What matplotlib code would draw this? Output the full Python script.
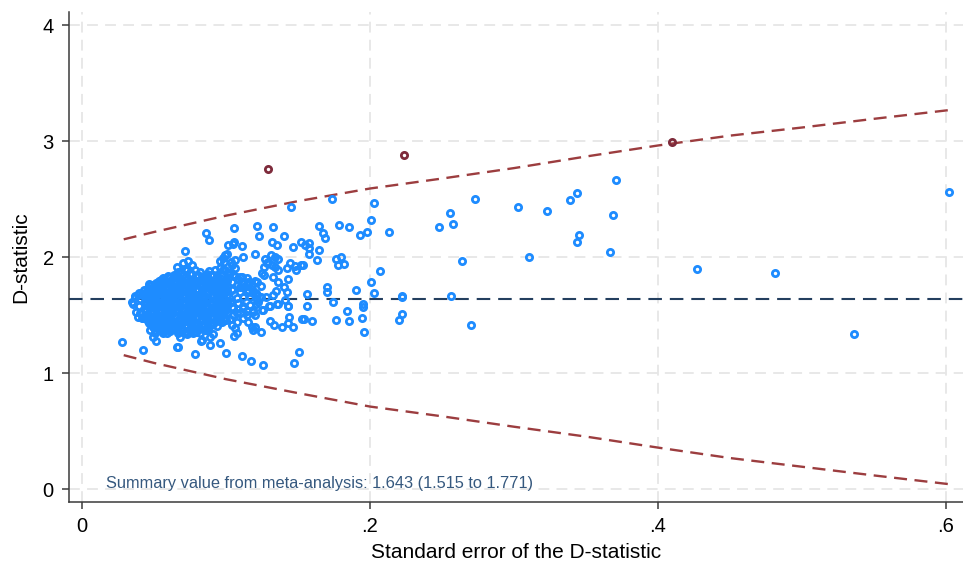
import matplotlib
matplotlib.use("Agg")
import matplotlib.pyplot as plt

plt.rcParams['font.family'] = ['Liberation Sans', 'DejaVu Sans']

# Pooled estimate from the meta-analysis
summary_d = 1.643
summary_text = "Summary value from meta-analysis: 1.643 (1.515 to 1.771)"

# Control limits of the funnel, sampled along the standard error axis
limit_se = [0.029, 0.05, 0.10, 0.15, 0.20, 0.25, 0.30, 0.35, 0.40, 0.45, 0.50, 0.55, 0.602]
upper_limit = [2.156, 2.219, 2.360, 2.485, 2.594, 2.680, 2.770, 2.870, 2.965, 3.050, 3.120, 3.195, 3.270]
lower_limit = [1.157, 1.090, 0.950, 0.830, 0.714, 0.630, 0.540, 0.455, 0.360, 0.270, 0.195, 0.120, 0.045]

# Studies falling outside the control limits
outside_se = [0.1294, 0.2236, 0.4095]
outside_d = [2.759, 2.884, 2.997]

# Studies with larger standard errors (sparse part of the funnel)
wide_se = [0.371, 0.369, 0.367, 0.427, 0.481, 0.536, 0.602, 0.1737, 0.2028, 0.2009,
           0.1644, 0.1785, 0.1852, 0.1674, 0.1690, 0.1933, 0.1977, 0.2133, 0.1524, 0.1547,
           0.1575, 0.1575, 0.1580, 0.1647, 0.1633, 0.1762, 0.1797, 0.1778, 0.1820, 0.1536,
           0.2071, 0.2004, 0.1900, 0.1702, 0.1699, 0.1566, 0.2030, 0.2224, 0.2224, 0.2563,
           0.1561, 0.1744, 0.1954, 0.1954, 0.1838, 0.1543, 0.1600, 0.1764, 0.1852, 0.1944,
           0.2222, 0.2201, 0.1956, 0.1510, 0.2704, 0.2482, 0.2556, 0.2577, 0.2729, 0.2642,
           0.3029, 0.3226, 0.3104, 0.3388, 0.3438, 0.3450, 0.3436]
wide_d = [2.668, 2.364, 2.049, 1.903, 1.862, 1.338, 2.567, 2.502, 2.473, 2.324,
          2.267, 2.278, 2.261, 2.207, 2.169, 2.189, 2.221, 2.218, 2.129, 2.107,
          2.124, 2.081, 2.032, 2.060, 1.980, 1.983, 2.006, 1.937, 1.943, 1.935,
          1.880, 1.791, 1.720, 1.745, 1.705, 1.688, 1.690, 1.671, 1.656, 1.671,
          1.585, 1.613, 1.596, 1.570, 1.539, 1.470, 1.450, 1.458, 1.450, 1.481,
          1.510, 1.462, 1.361, 1.188, 1.415, 2.261, 2.382, 2.292, 2.505, 1.972,
          2.436, 2.396, 2.000, 2.496, 2.559, 2.195, 2.129]

# Studies around the edge of the main cluster
edge_se = [0.1449, 0.0861, 0.0882, 0.1053, 0.1213, 0.1326, 0.1232, 0.1403, 0.1317, 0.1356,
           0.1014, 0.1049, 0.1058, 0.1111, 0.1468, 0.0718, 0.1201, 0.1116, 0.0993, 0.1007,
           0.0981, 0.1312, 0.1338, 0.1359, 0.1271, 0.1282, 0.1294, 0.1266, 0.1317, 0.1340,
           0.1359, 0.0736, 0.0704, 0.0662, 0.0958, 0.0984, 0.1032, 0.1060, 0.1044, 0.1060,
           0.1444, 0.1477, 0.1421, 0.1523, 0.1484, 0.1428, 0.1329, 0.1363, 0.1250, 0.1266,
           0.1204, 0.1245, 0.1403, 0.1426, 0.1345, 0.1329, 0.1275, 0.1245, 0.1218, 0.1410,
           0.1306, 0.1356, 0.1255, 0.1433, 0.1201, 0.1155, 0.1178, 0.1306, 0.1336, 0.1387,
           0.1437, 0.1463, 0.1433, 0.1528, 0.1201, 0.1190, 0.1243, 0.1079, 0.1056, 0.1113,
           0.1171, 0.1257, 0.1470, 0.1002, 0.0785, 0.0958, 0.0889, 0.0831, 0.0664, 0.0426,
           0.0275, 0.0680, 0.0669, 0.0514, 0.0495, 0.0505, 0.0472, 0.0468, 0.0414, 0.0375,
           0.0356, 0.0345, 0.0368, 0.0468, 0.0560, 0.0606, 0.0889, 0.0912, 0.0866, 0.0820,
           0.0770, 0.0731, 0.0565, 0.0588, 0.0762, 0.0785, 0.0565, 0.0599, 0.0641, 0.0391,
           0.0368, 0.0426, 0.0460, 0.0519, 0.0553, 0.0391, 0.0426, 0.0460, 0.0519, 0.0553,
           0.0565, 0.0785, 0.0727, 0.0826, 0.0658]
edge_d = [2.431, 2.212, 2.149, 2.250, 2.270, 2.264, 2.184, 2.184, 2.132, 2.109,
          2.103, 2.118, 2.129, 2.097, 2.092, 2.051, 2.031, 2.005, 2.017, 2.026,
          1.994, 2.020, 2.005, 1.988, 1.983, 1.948, 1.959, 1.919, 1.931, 1.919,
          1.891, 1.971, 1.948, 1.919, 1.971, 1.959, 1.962, 1.977, 1.931, 1.905,
          1.954, 1.925, 1.908, 1.931, 1.891, 1.810, 1.833, 1.784, 1.868, 1.845,
          1.793, 1.753, 1.741, 1.701, 1.712, 1.675, 1.661, 1.661, 1.638, 1.632,
          1.580, 1.595, 1.546, 1.580, 1.503, 1.445, 1.402, 1.454, 1.416, 1.402,
          1.483, 1.402, 1.437, 1.468, 1.402, 1.373, 1.356, 1.345, 1.322, 1.149,
          1.103, 1.069, 1.092, 1.178, 1.164, 1.258, 1.241, 1.287, 1.224, 1.201,
          1.270, 1.310, 1.350, 1.281, 1.316, 1.350, 1.373, 1.431, 1.474, 1.531,
          1.597, 1.618, 1.661, 1.770, 1.816, 1.827, 1.316, 1.339, 1.373, 1.345,
          1.350, 1.350, 1.359, 1.350, 1.934, 1.890, 1.819, 1.828, 1.828, 1.675,
          1.666, 1.684, 1.703, 1.733, 1.718, 1.488, 1.474, 1.474, 1.445, 1.416,
          1.345, 1.359, 1.359, 1.278, 1.229]

# Studies to the right of the dense core
mid_se = [0.1005, 0.1063, 0.1097, 0.1144, 0.1155, 0.1074, 0.1120, 0.1178, 0.1213, 0.1005,
          0.1039, 0.1097, 0.1155, 0.1190, 0.1023, 0.1074, 0.1120, 0.1167, 0.1213, 0.1005,
          0.1039, 0.1086, 0.1120, 0.1167, 0.1208, 0.1016, 0.1051, 0.1097, 0.1144, 0.1190,
          0.1028, 0.1074, 0.1120, 0.1039, 0.1063, 0.0935, 0.0947, 0.0924, 0.0958, 0.0993,
          0.1028, 0.0843, 0.0877, 0.0947, 0.1028, 0.1051, 0.1074, 0.1120, 0.1144, 0.1190,
          0.1225, 0.1248, 0.1301, 0.1363, 0.1431, 0.0981, 0.1005, 0.1051, 0.1110, 0.1086,
          0.0993, 0.1040, 0.1120, 0.1155, 0.1098, 0.1178, 0.1150, 0.1212, 0.1040, 0.0958,
          0.1005]
mid_d = [1.799, 1.839, 1.833, 1.819, 1.790, 1.761, 1.747, 1.761, 1.790, 1.718,
         1.724, 1.704, 1.718, 1.695, 1.661, 1.646, 1.661, 1.655, 1.675, 1.603,
         1.574, 1.603, 1.580, 1.589, 1.597, 1.531, 1.503, 1.517, 1.540, 1.546,
         1.465, 1.445, 1.474, 1.416, 1.388, 1.847, 1.804, 1.891, 1.905, 1.891,
         1.862, 1.503, 1.531, 1.589, 1.617, 1.560, 1.517, 1.560, 1.503, 1.531,
         1.617, 1.546, 1.583, 1.595, 1.583, 1.894, 1.862, 1.848, 1.833, 1.810,
         1.808, 1.787, 1.775, 1.762, 1.745, 1.730, 1.700, 1.690, 1.720, 1.724,
         1.680]

# Dense core of precise studies
core_se = [0.0402, 0.0397, 0.0405, 0.0399,
           0.0431, 0.0428, 0.0435, 0.0426, 0.0433,
           0.0462, 0.0458, 0.0465, 0.0457, 0.0463, 0.0460,
           0.0492, 0.0488, 0.0495, 0.0487, 0.0494, 0.0490,
           0.0521, 0.0518, 0.0524, 0.0516, 0.0523, 0.0519, 0.0525, 0.0517,
           0.0551, 0.0548, 0.0554, 0.0546, 0.0553, 0.0549, 0.0555, 0.0547, 0.0552,
           0.0581, 0.0578, 0.0584, 0.0576, 0.0583, 0.0579, 0.0585, 0.0577,
           0.0611, 0.0608, 0.0614, 0.0606, 0.0613, 0.0609, 0.0615, 0.0607, 0.0612,
           0.0641, 0.0638, 0.0644, 0.0636, 0.0643, 0.0639, 0.0645, 0.0637, 0.0642,
           0.0671, 0.0668, 0.0674, 0.0666, 0.0673, 0.0669, 0.0675, 0.0667, 0.0672, 0.0670,
           0.0701, 0.0698, 0.0704, 0.0696, 0.0703, 0.0699, 0.0705, 0.0697, 0.0702,
           0.0731, 0.0728, 0.0734, 0.0726, 0.0733, 0.0729, 0.0735, 0.0727, 0.0732, 0.0730,
           0.0761, 0.0758, 0.0764, 0.0756, 0.0763, 0.0759, 0.0765, 0.0757, 0.0762,
           0.0791, 0.0788, 0.0794, 0.0786, 0.0793, 0.0789, 0.0795, 0.0787, 0.0792,
           0.0821, 0.0818, 0.0824, 0.0816, 0.0823, 0.0819, 0.0825, 0.0817, 0.0822,
           0.0851, 0.0848, 0.0854, 0.0846, 0.0853, 0.0849, 0.0855, 0.0847, 0.0852,
           0.0881, 0.0878, 0.0884, 0.0876, 0.0883, 0.0879, 0.0885, 0.0877, 0.0882,
           0.0911, 0.0908, 0.0914, 0.0906, 0.0913, 0.0909, 0.0915, 0.0907,
           0.0941, 0.0938, 0.0944, 0.0936, 0.0943, 0.0939, 0.0945, 0.0937,
           0.0971, 0.0968, 0.0974, 0.0966, 0.0973, 0.0969, 0.0975,
           0.1001, 0.0998, 0.1004, 0.0996, 0.1003,
           0.0446, 0.0475, 0.0503, 0.0536, 0.0567, 0.0594, 0.0626, 0.0655, 0.0684, 0.0716,
           0.0745, 0.0777, 0.0806, 0.0834, 0.0866, 0.0895, 0.0925, 0.0957, 0.0985,
           0.0452, 0.0481, 0.0511, 0.0539, 0.0571, 0.0598, 0.0629, 0.0659, 0.0688, 0.0718,
           0.0749, 0.0779, 0.0808, 0.0838, 0.0869, 0.0897, 0.0928, 0.0953, 0.0988]
core_d = [1.523, 1.581, 1.638, 1.694,
          1.497, 1.558, 1.621, 1.672, 1.718,
          1.452, 1.508, 1.567, 1.629, 1.684, 1.737,
          1.404, 1.468, 1.531, 1.593, 1.652, 1.709,
          1.392, 1.441, 1.503, 1.558, 1.617, 1.683, 1.738, 1.781,
          1.371, 1.424, 1.482, 1.539, 1.602, 1.657, 1.719, 1.768, 1.806,
          1.393, 1.452, 1.508, 1.571, 1.627, 1.689, 1.746, 1.797,
          1.362, 1.413, 1.474, 1.532, 1.593, 1.648, 1.713, 1.768, 1.829,
          1.384, 1.437, 1.498, 1.561, 1.618, 1.679, 1.742, 1.793, 1.852,
          1.354, 1.408, 1.467, 1.529, 1.588, 1.652, 1.707, 1.763, 1.821, 1.876,
          1.373, 1.432, 1.491, 1.553, 1.612, 1.671, 1.734, 1.788, 1.847,
          1.341, 1.398, 1.462, 1.518, 1.581, 1.643, 1.698, 1.761, 1.818, 1.893,
          1.382, 1.441, 1.503, 1.562, 1.624, 1.681, 1.743, 1.802, 1.861,
          1.361, 1.418, 1.479, 1.541, 1.598, 1.662, 1.721, 1.779, 1.838,
          1.392, 1.453, 1.511, 1.572, 1.634, 1.688, 1.751, 1.809, 1.872,
          1.372, 1.428, 1.492, 1.549, 1.608, 1.671, 1.732, 1.788, 1.842,
          1.401, 1.462, 1.518, 1.583, 1.641, 1.703, 1.758, 1.821, 1.879,
          1.423, 1.481, 1.542, 1.601, 1.663, 1.719, 1.782, 1.847,
          1.412, 1.471, 1.532, 1.589, 1.652, 1.713, 1.771, 1.828,
          1.443, 1.508, 1.567, 1.628, 1.691, 1.748, 1.812,
          1.462, 1.548, 1.621, 1.702, 1.779,
          1.541, 1.612, 1.487, 1.652, 1.561, 1.702, 1.445, 1.598, 1.736, 1.512,
          1.668, 1.579, 1.721, 1.468, 1.633, 1.752, 1.547, 1.684, 1.609,
          1.663, 1.539, 1.727, 1.476, 1.639, 1.784, 1.558, 1.701, 1.429, 1.614,
          1.782, 1.521, 1.657, 1.803, 1.489, 1.597, 1.704, 1.452, 1.654]

# More studies packed into the core, between the ones above
packed_se = [0.0447, 0.0443, 0.0446, 0.0442, 0.0448,
             0.0477, 0.0473, 0.0476, 0.0472, 0.0478, 0.0474, 0.0476,
             0.0507, 0.0503, 0.0506, 0.0502, 0.0508, 0.0504, 0.0506, 0.0503,
             0.0537, 0.0533, 0.0536, 0.0532, 0.0538, 0.0534, 0.0536, 0.0533,
             0.0567, 0.0563, 0.0566, 0.0562, 0.0568, 0.0564, 0.0566, 0.0563,
             0.0597, 0.0593, 0.0596, 0.0592, 0.0598, 0.0594, 0.0596, 0.0593, 0.0597,
             0.0627, 0.0623, 0.0626, 0.0622, 0.0628, 0.0624, 0.0626, 0.0623,
             0.0657, 0.0653, 0.0656, 0.0652, 0.0658, 0.0654, 0.0656, 0.0653, 0.0657,
             0.0687, 0.0683, 0.0686, 0.0682, 0.0688, 0.0684, 0.0686, 0.0683, 0.0687,
             0.0717, 0.0713, 0.0716, 0.0712, 0.0718, 0.0714, 0.0716, 0.0713, 0.0717, 0.0714,
             0.0747, 0.0743, 0.0746, 0.0742, 0.0748, 0.0744, 0.0746, 0.0743, 0.0747,
             0.0777, 0.0773, 0.0776, 0.0772, 0.0778, 0.0774, 0.0776, 0.0773,
             0.0807, 0.0803, 0.0806, 0.0802, 0.0808, 0.0804, 0.0806, 0.0803, 0.0807,
             0.0837, 0.0833, 0.0836, 0.0832, 0.0838, 0.0834, 0.0836, 0.0833,
             0.0867, 0.0863, 0.0866, 0.0862, 0.0868, 0.0864, 0.0866, 0.0863, 0.0867,
             0.0897, 0.0893, 0.0896, 0.0892, 0.0898, 0.0894, 0.0896, 0.0893,
             0.0927, 0.0923, 0.0926, 0.0922, 0.0928, 0.0924, 0.0926,
             0.0957, 0.0953, 0.0956, 0.0952, 0.0958, 0.0954, 0.0956,
             0.0987, 0.0983, 0.0986, 0.0982, 0.0988, 0.0984]
packed_d = [1.485, 1.545, 1.600, 1.655, 1.705,
            1.425, 1.480, 1.540, 1.600, 1.660, 1.715, 1.760,
            1.375, 1.425, 1.475, 1.530, 1.590, 1.645, 1.700, 1.760,
            1.405, 1.470, 1.530, 1.585, 1.645, 1.705, 1.760, 1.800,
            1.395, 1.455, 1.515, 1.575, 1.635, 1.695, 1.755, 1.810,
            1.380, 1.440, 1.500, 1.560, 1.620, 1.680, 1.735, 1.790, 1.840,
            1.395, 1.455, 1.515, 1.575, 1.635, 1.690, 1.755, 1.815,
            1.370, 1.425, 1.485, 1.545, 1.605, 1.665, 1.725, 1.780, 1.840,
            1.390, 1.450, 1.510, 1.570, 1.630, 1.690, 1.750, 1.810, 1.865,
            1.360, 1.415, 1.475, 1.535, 1.595, 1.655, 1.715, 1.775, 1.835, 1.900,
            1.380, 1.440, 1.500, 1.560, 1.620, 1.680, 1.740, 1.800, 1.860,
            1.395, 1.455, 1.515, 1.575, 1.635, 1.695, 1.755, 1.815,
            1.370, 1.425, 1.485, 1.545, 1.605, 1.665, 1.725, 1.785, 1.845,
            1.410, 1.470, 1.530, 1.590, 1.650, 1.710, 1.770, 1.830,
            1.390, 1.455, 1.515, 1.575, 1.635, 1.695, 1.755, 1.815, 1.860,
            1.430, 1.490, 1.550, 1.610, 1.670, 1.730, 1.790, 1.850,
            1.450, 1.510, 1.570, 1.630, 1.690, 1.750, 1.805,
            1.460, 1.520, 1.580, 1.640, 1.700, 1.760, 1.800,
            1.480, 1.540, 1.600, 1.660, 1.720, 1.780]

x_ticks = [0, 0.2, 0.4, 0.6]
x_tick_labels = ["0", ".2", ".4", ".6"]
y_ticks = [0, 1, 2, 3, 4]
y_tick_labels = ["0", "1", "2", "3", "4"]

blue = "#1E8CFF"
maroon = "#7E2B3B"
limit_color = "#9C3D3F"
summary_color = "#243F5F"
grid_color = "#E6E6E6"
axis_color = "#3A3A3A"

fig = plt.figure(figsize=(9.63, 5.71), dpi=100)
ax = fig.add_axes([69 / 963, 1 - 502 / 571, 894 / 963, 490 / 571])

ax.set_xlim(-0.009, 0.6118)
ax.set_ylim(-0.109, 4.116)

# Dashed grid
for xv in x_ticks:
    ax.axvline(xv, color=grid_color, lw=1.3, dashes=(6, 4), zorder=0)
for yv in y_ticks:
    ax.axhline(yv, color=grid_color, lw=1.3, dashes=(6, 4), zorder=0)

# Pooled estimate and control limits
ax.axhline(summary_d, color=summary_color, lw=1.5, dashes=(6.5, 3.8), zorder=2)
ax.plot(limit_se, upper_limit, color=limit_color, lw=1.7, dashes=(5.5, 3.2), zorder=2)
ax.plot(limit_se, lower_limit, color=limit_color, lw=1.7, dashes=(5.5, 3.2), zorder=2)

# Hollow (unfilled) circles, so overlapping studies merge into a solid mass
marker_kw = dict(linestyle="none", marker="o", markersize=4.5, markeredgewidth=2.0,
                 markerfacecolor="none", zorder=3)
groups = [(core_se, core_d), (packed_se, packed_d), (mid_se, mid_d),
          (edge_se, edge_d), (wide_se, wide_d)]
for se_vals, d_vals in groups:
    ax.plot(se_vals, d_vals, markeredgecolor=blue, **marker_kw)
ax.plot(outside_se, outside_d, markeredgecolor=maroon, **marker_kw)

ax.text(0.0167, 0.054, summary_text, color="#35587E", fontsize=11.8, va="center", ha="left")

ax.set_xticks(x_ticks)
ax.set_xticklabels(x_tick_labels)
ax.set_yticks(y_ticks)
ax.set_yticklabels(y_tick_labels)
ax.tick_params(axis="both", direction="out", length=5, width=1.1, color=axis_color,
               labelsize=14.5, pad=6, labelcolor="black")

for side in ["top", "right"]:
    ax.spines[side].set_visible(False)
for side in ["left", "bottom"]:
    ax.spines[side].set_color(axis_color)
    ax.spines[side].set_linewidth(1.1)

ax.set_xlabel("Standard error of the D-statistic", fontsize=15, labelpad=5)
ax.set_ylabel("D-statistic", fontsize=15, labelpad=9)

fig.savefig("out.png", dpi=100)
